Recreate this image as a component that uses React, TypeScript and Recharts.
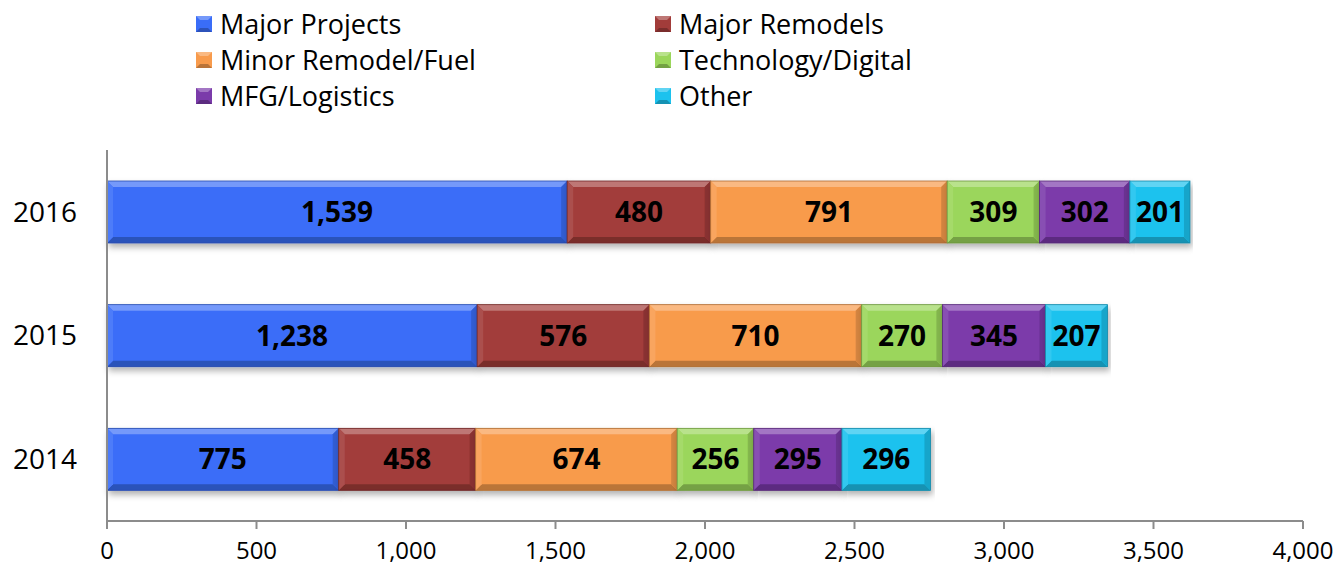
import React from "react";
import { BarChart, Bar, XAxis, YAxis, LabelList } from "recharts";

const years = ["2016", "2015", "2014"];
const majorProjects = [1539, 1238, 775];
const majorRemodels = [480, 576, 458];
const minorRemodel = [791, 710, 674];
const technology = [309, 270, 256];
const mfgLogistics = [302, 345, 295];
const other = [201, 207, 296];
const xTicks = [0, 500, 1000, 1500, 2000, 2500, 3000, 3500, 4000];

const series = [
  { key: "majorProjects", name: "Major Projects", color: "#3a6df8", values: majorProjects },
  { key: "majorRemodels", name: "Major Remodels", color: "#a23c3a", values: majorRemodels },
  { key: "minorRemodel", name: "Minor Remodel/Fuel", color: "#f89b4c", values: minorRemodel },
  { key: "technology", name: "Technology/Digital", color: "#9bd65b", values: technology },
  { key: "mfgLogistics", name: "MFG/Logistics", color: "#7b3baa", values: mfgLogistics },
  { key: "other", name: "Other", color: "#1cc2ee", values: other },
];

const data = years.map((year, i) => {
  const row: Record<string, any> = { year };
  series.forEach((s) => (row[s.key] = s.values[i]));
  return row;
});

const FONT = "'Open Sans', sans-serif";

function mix(hex: string, target: number, amt: number) {
  const n = parseInt(hex.slice(1), 16);
  const ch = [(n >> 16) & 255, (n >> 8) & 255, n & 255].map((c) =>
    Math.round(c + (target - c) * amt)
  );
  return `rgb(${ch[0]},${ch[1]},${ch[2]})`;
}

// bar with bevelled edges, like the office 3d preset
function BevelBar(props: any) {
  const { x, y, width, height, fill } = props;
  if (!width || !height) return null;
  const b = Math.min(6, width / 4, height / 4);
  const w = width;
  const h = height;
  return (
    <g filter="url(#barShadow)">
      <rect x={x} y={y} width={w} height={h} fill={fill} />
      <polygon
        points={`${x},${y} ${x + w},${y} ${x + w - b},${y + b} ${x + b},${y + b}`}
        fill={mix(fill, 255, 0.3)}
      />
      <polygon
        points={`${x},${y + h} ${x + w},${y + h} ${x + w - b},${y + h - b} ${x + b},${y + h - b}`}
        fill={mix(fill, 0, 0.25)}
      />
      <polygon
        points={`${x},${y} ${x + b},${y + b} ${x + b},${y + h - b} ${x},${y + h}`}
        fill={mix(fill, 255, 0.1)}
      />
      <polygon
        points={`${x + w},${y} ${x + w - b},${y + b} ${x + w - b},${y + h - b} ${x + w},${y + h}`}
        fill={mix(fill, 0, 0.15)}
      />
      <rect x={x} y={y} width={w} height={h} fill="none" stroke={mix(fill, 0, 0.3)} strokeWidth={0.8} />
    </g>
  );
}

function LegendIcon({ color }: { color: string }) {
  return (
    <svg width={16} height={16} style={{ marginRight: 8 }}>
      <rect x={0} y={0} width={16} height={16} fill={color} />
      <polygon points="0,0 16,0 12,4 4,4" fill={mix(color, 255, 0.3)} />
      <polygon points="0,16 16,16 12,12 4,12" fill={mix(color, 0, 0.25)} />
    </svg>
  );
}

export default function App() {
  return (
    <div style={{ position: "absolute", left: 0, top: 0, width: 1337, height: 565, background: "#fff", fontFamily: FONT }}>
      <div
        style={{
          position: "absolute",
          left: 196,
          top: 6,
          display: "grid",
          gridTemplateColumns: "459px 300px",
          rowGap: 1,
          fontSize: 27,
          lineHeight: "35px",
          color: "#000",
        }}
      >
        {series.map((s) => (
          <div key={s.key} style={{ display: "flex", alignItems: "center" }}>
            <LegendIcon color={s.color} />
            <span>{s.name}</span>
          </div>
        ))}
      </div>
      <BarChart
        width={1337}
        height={565}
        data={data}
        layout="vertical"
        margin={{ top: 150, right: 34, bottom: 0, left: 0 }}
        barSize={62}
        style={{ fontFamily: FONT }}
      >
        <defs>
          <filter id="barShadow" x="-5%" y="-20%" width="110%" height="150%">
            <feDropShadow dx={2} dy={4} stdDeviation={3} floodColor="#000" floodOpacity={0.3} />
          </filter>
        </defs>
        <XAxis
          type="number"
          domain={[0, 4000]}
          ticks={xTicks}
          height={44}
          stroke="#8c8c8c"
          strokeWidth={2}
          tickSize={8}
          tick={{ fill: "#000", fontSize: 24, dy: 11 }}
          tickFormatter={(v: number) => v.toLocaleString("en-US")}
          interval={0}
        />
        <YAxis
          type="category"
          dataKey="year"
          width={107}
          stroke="#8c8c8c"
          strokeWidth={2}
          tickLine={false}
          tickSize={0}
          tick={{ fill: "#000", fontSize: 28, dx: -28 }}
        />
        {series.map((s) => (
          <Bar
            key={s.key}
            dataKey={s.key}
            name={s.name}
            stackId="a"
            fill={s.color}
            shape={BevelBar}
            isAnimationActive={false}
          >
            <LabelList
              dataKey={s.key}
              position="center"
              formatter={(v: any) => Number(v).toLocaleString("en-US")}
              fill="#000"
              fontWeight="bold"
              fontSize={28}
            />
          </Bar>
        ))}
      </BarChart>
    </div>
  );
}
